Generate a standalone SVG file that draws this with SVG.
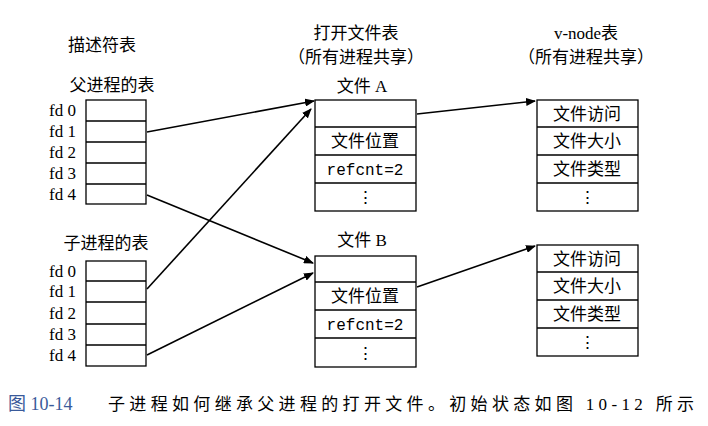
<svg xmlns="http://www.w3.org/2000/svg" width="708" height="426" viewBox="0 0 708 426">
<defs>
<marker id="ah" markerWidth="10" markerHeight="8" refX="9" refY="4" orient="auto" markerUnits="userSpaceOnUse"><path d="M0,0 L10,4 L0,8 z" fill="#000"/></marker>
<style>
.b{fill:#fff;stroke:#000;stroke-width:1.3}
.t{font-family:"Liberation Serif","Noto Sans CJK SC",serif;font-size:17px;fill:#000}
.c{text-anchor:middle}
.fd{font-family:"Liberation Serif",serif;font-size:17px;text-anchor:end}
.m{font-family:"Liberation Mono",monospace;font-size:16px;text-anchor:middle}
.l{stroke:#000;stroke-width:1.6;fill:none;marker-end:url(#ah)}
</style>
</defs>
<rect width="708" height="426" fill="#fff"/>
<text class="t" x="68" y="51">描述符表</text>
<text class="t c" x="356" y="39">打开文件表</text>
<text class="t c" x="356" y="63">（所有进程共享）</text>
<text class="t c" x="586" y="39">v-node表</text>
<text class="t c" x="586" y="63">（所有进程共享）</text>
<g id="parent">
<text class="t c" x="112" y="91">父进程的表</text>
<rect class="b" x="86" y="100" width="60" height="104"/>
<path d="M86 121H146M86 142H146M86 163H146M86 184H146" stroke="#000" stroke-width="1.3"/>
<text class="fd" x="76" y="116">fd 0</text><text class="fd" x="76" y="137">fd 1</text><text class="fd" x="76" y="158">fd 2</text><text class="fd" x="76" y="179">fd 3</text><text class="fd" x="76" y="200">fd 4</text>
</g>
<g id="child">
<text class="t c" x="106" y="249">子进程的表</text>
<rect class="b" x="86" y="261" width="60" height="105"/>
<path d="M86 281H146M86 302H146M86 324H146M86 345H146" stroke="#000" stroke-width="1.3"/>
<text class="fd" x="76" y="277">fd 0</text><text class="fd" x="76" y="297">fd 1</text><text class="fd" x="76" y="319">fd 2</text><text class="fd" x="76" y="340">fd 3</text><text class="fd" x="76" y="361">fd 4</text>
</g>
<g id="fileA">
<text class="t c" x="362" y="92">文件 A</text>
<rect class="b" x="315" y="100" width="101" height="111"/>
<path d="M315 127H416M315 155H416M315 183H416" stroke="#000" stroke-width="1.3"/>
<text class="t c" x="365" y="147">文件位置</text>
<text class="m" x="365" y="175">refcnt=2</text>
<text class="t c" x="365" y="203">⋮</text>
</g>
<g id="fileB">
<text class="t c" x="362" y="246">文件 B</text>
<rect class="b" x="315" y="256" width="101" height="111"/>
<path d="M315 282H416M315 310H416M315 338H416" stroke="#000" stroke-width="1.3"/>
<text class="t c" x="365" y="302">文件位置</text>
<text class="m" x="365" y="330">refcnt=2</text>
<text class="t c" x="365" y="359">⋮</text>
</g>
<g id="vnodeA">
<rect class="b" x="537" y="100" width="101" height="111"/>
<path d="M537 127H638M537 155H638M537 183H638" stroke="#000" stroke-width="1.3"/>
<text class="t c" x="587" y="120">文件访问</text>
<text class="t c" x="587" y="147">文件大小</text>
<text class="t c" x="587" y="175">文件类型</text>
<text class="t c" x="587" y="203">⋮</text>
</g>
<g id="vnodeB">
<rect class="b" x="537" y="245" width="101" height="111"/>
<path d="M537 272H638M537 300H638M537 328H638" stroke="#000" stroke-width="1.3"/>
<text class="t c" x="587" y="265">文件访问</text>
<text class="t c" x="587" y="292">文件大小</text>
<text class="t c" x="587" y="320">文件类型</text>
<text class="t c" x="587" y="348">⋮</text>
</g>
<g id="connectors">
<line class="l" x1="147" y1="132" x2="314" y2="101"/>
<line class="l" x1="147" y1="195" x2="313" y2="263"/>
<line class="l" x1="147" y1="289" x2="311" y2="109"/>
<line class="l" x1="147" y1="355" x2="313" y2="273"/>
<line class="l" x1="417" y1="114" x2="535" y2="101"/>
<line class="l" x1="417" y1="287" x2="535" y2="246"/>
</g>
<text x="8" y="410" font-family="Liberation Serif,Noto Sans CJK SC,serif" font-size="18" fill="#3a5a9a">图 10-14</text>
<text x="108" y="410" class="t" font-size="18" textLength="586" lengthAdjust="spacing">子进程如何继承父进程的打开文件。初始状态如图 10-12 所示</text>
</svg>
